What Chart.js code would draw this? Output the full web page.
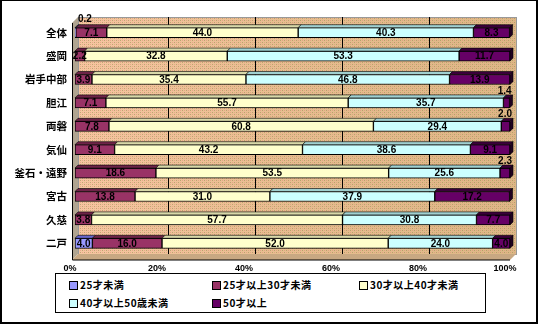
<!DOCTYPE html>
<html lang="ja">
<head>
<meta charset="UTF-8">
<title>年齢構成</title>
<script src="https://cdn.jsdelivr.net/npm/chart.js"></script>
<style>
  html, body { margin: 0; padding: 0; background: #fff; }
  #wrap { position: relative; width: 538px; height: 324px; overflow: hidden; }
  #frame { position: absolute; left: 0; top: 0; width: 538px; height: 324px; box-sizing: border-box;
           border: 1px solid #000; border-left-width: 2px; border-right-width: 2px; border-bottom-width: 2px;
           pointer-events: none; }
  #legend { position: absolute; left: 55px; top: 273px; width: 431px; height: 40px; box-sizing: border-box;
            border: 1px solid #000; background: #fff;
            font: bold 10px "Noto Sans CJK JP", sans-serif; }
  #legend .item { position: absolute; white-space: nowrap; line-height: 12px; letter-spacing: 0.5px; }
  #legend .box { display: inline-block; width: 7px; height: 7px; border: 1px solid #000; margin-right: 2px;
                 vertical-align: -1px; }
</style>
</head>
<body>
<div id="wrap">
  <canvas id="chart" width="538" height="324"></canvas>
  <div id="legend"></div>
  <div id="frame"></div>
</div>
<script>
// 地域別の年齢構成（%）
const areas = ['全体', '盛岡', '岩手中部', '胆江', '両磐', '気仙', '釜石・遠野', '宮古', '久慈', '二戸'];
const groups = ['25才未満', '25才以上30才未満', '30才以上40才未満', '40才以上50歳未満', '50才以上'];

const under25   = [0.2, 0, 0, 0, 0, 0, 0, 0, 0, 4.0];
const age25to30 = [7.1, 2.2, 3.9, 7.1, 7.8, 9.1, 18.6, 13.8, 3.8, 16.0];
const age30to40 = [44.0, 32.8, 35.4, 55.7, 60.8, 43.2, 53.5, 31.0, 57.7, 52.0];
const age40to50 = [40.3, 53.3, 46.8, 35.7, 29.4, 38.6, 25.6, 37.9, 30.8, 24.0];
const over50    = [8.3, 11.7, 13.9, 1.4, 2.0, 9.1, 2.3, 17.2, 7.7, 4.0];

const xTicks = [0, 20, 40, 60, 80, 100];

const colors = ['#9999FF', '#993366', '#FFFFCC', '#CCFFFF', '#660066'];
const tops   = ['#6666CC', '#6E2448', '#D8D8A8', '#A0D0D0', '#3A003A'];

const DEPTH = 6;   // 奥の壁までのずれ
const BAR_D = 3;   // 棒の上面の厚み

// 壁のざらざらした模様
function dots(ctx) {
  const c = document.createElement('canvas');
  c.width = 4; c.height = 4;
  const g = c.getContext('2d');
  g.fillStyle = 'rgba(150,140,80,0.55)';
  g.fillRect(0, 0, 1, 1); g.fillRect(2, 2, 1, 1);
  g.fillStyle = 'rgba(220,130,120,0.45)';
  g.fillRect(2, 0, 1, 1); g.fillRect(0, 2, 1, 1);
  return ctx.createPattern(c, 'repeat');
}

// 奥の壁・側面・床とグリッド線
const wallPlugin = {
  id: 'wall',
  beforeDatasetsDraw(chart) {
    const { ctx, chartArea: a, scales: { x } } = chart;
    const L = a.left, R = a.right, T = a.top - 4, B = a.bottom + 5;
    ctx.save();
    // 側面
    ctx.fillStyle = '#B0A490';
    ctx.beginPath();
    ctx.moveTo(L - 3, T + DEPTH); ctx.lineTo(L - 3 + DEPTH, T); ctx.lineTo(L - 3 + DEPTH, B - DEPTH); ctx.lineTo(L - 3, B);
    ctx.closePath(); ctx.fill();
    // 奥の壁
    const grad = ctx.createLinearGradient(L, 0, R, 0);
    grad.addColorStop(0, '#F6C6A0');
    grad.addColorStop(0.45, '#E8BE90');
    grad.addColorStop(1, '#DDB886');
    ctx.fillStyle = grad;
    ctx.fillRect(L - 3 + DEPTH, T, R - L + 3, B - DEPTH - T);
    ctx.fillStyle = dots(ctx);
    ctx.fillRect(L - 3 + DEPTH, T, R - L + 3, B - DEPTH - T);
    ctx.strokeStyle = '#999';
    ctx.lineWidth = 1;
    ctx.strokeRect(L - 3 + DEPTH + 0.5, T + 0.5, R - L + 3, B - DEPTH - T);
    // 床
    ctx.fillStyle = '#C8A882';
    ctx.beginPath();
    ctx.moveTo(L - 3, B); ctx.lineTo(L - 3 + DEPTH, B - DEPTH); ctx.lineTo(R + DEPTH, B - DEPTH); ctx.lineTo(R, B);
    ctx.closePath(); ctx.fill();
    // グリッド線
    ctx.strokeStyle = '#000';
    xTicks.forEach(v => {
      if (v === 0 || v === 100) return;
      const px = Math.round(x.getPixelForValue(v) + DEPTH) + 0.5;
      ctx.beginPath(); ctx.moveTo(px, T); ctx.lineTo(px, B - DEPTH); ctx.stroke();
    });
    // 軸線
    ctx.beginPath();
    ctx.moveTo(L - 3 + 0.5, T + DEPTH); ctx.lineTo(L - 3 + 0.5, B);
    ctx.lineTo(R, B);
    ctx.stroke();
    ctx.restore();
  }
};

// 棒の上面と右端の立体部分
const barTopPlugin = {
  id: 'barTop',
  afterDatasetsDraw(chart) {
    const ctx = chart.ctx;
    ctx.save();
    ctx.lineWidth = 0.6;
    ctx.strokeStyle = '#000';
    const n = chart.data.datasets.length;
    chart.data.datasets.forEach((ds, di) => {
      chart.getDatasetMeta(di).data.forEach((el, i) => {
        if (!ds.data[i]) return;
        const x0 = Math.min(el.base, el.x), x1 = Math.max(el.base, el.x);
        const top = el.y - el.height / 2;
        ctx.fillStyle = tops[di];
        ctx.beginPath();
        ctx.moveTo(x0, top); ctx.lineTo(x0 + BAR_D, top - BAR_D);
        ctx.lineTo(x1 + BAR_D, top - BAR_D); ctx.lineTo(x1, top);
        ctx.closePath(); ctx.fill(); ctx.stroke();
        // 最後の区分だけ右側面
        let last = true;
        for (let k = di + 1; k < n; k++) if (chart.data.datasets[k].data[i]) last = false;
        if (last) {
          const bot = el.y + el.height / 2;
          ctx.fillStyle = '#200020';
          ctx.beginPath();
          ctx.moveTo(x1, top); ctx.lineTo(x1 + BAR_D, top - BAR_D);
          ctx.lineTo(x1 + BAR_D, bot - BAR_D); ctx.lineTo(x1, bot);
          ctx.closePath(); ctx.fill(); ctx.stroke();
        }
      });
    });
    ctx.restore();
  }
};

// 数値ラベル
const valuePlugin = {
  id: 'values',
  afterDraw(chart) {
    const ctx = chart.ctx;
    const n = chart.data.datasets.length;
    ctx.save();
    ctx.font = 'bold 10px "Liberation Sans", Arial, sans-serif';
    ctx.fillStyle = '#000';
    ctx.textBaseline = 'middle';
    chart.data.datasets.forEach((ds, di) => {
      chart.getDatasetMeta(di).data.forEach((el, i) => {
        const v = ds.data[i];
        if (!v) return;
        const txt = v.toFixed(1);
        const x0 = Math.min(el.base, el.x), x1 = Math.max(el.base, el.x);
        if (v < 2.5 && di === 0) {
          ctx.textAlign = 'left';
          ctx.fillText(txt, x0 + 3, el.y - 13);
        } else if (v < 2.5 && di === n - 1) {
          ctx.textAlign = 'right';
          ctx.fillText(txt, x1 + 2, el.y - 12);
        } else {
          ctx.textAlign = 'center';
          ctx.fillText(txt, (x0 + x1) / 2, el.y + 0.5);
        }
      });
    });
    ctx.restore();
  }
};

const series = [under25, age25to30, age30to40, age40to50, over50];

const chart = new Chart(document.getElementById('chart'), {
  type: 'bar',
  data: {
    labels: areas,
    datasets: series.map((d, i) => ({
      label: groups[i],
      data: d,
      backgroundColor: colors[i],
      borderColor: '#000',
      borderWidth: 1,
      borderSkipped: false,
      barThickness: 10
    }))
  },
  options: {
    indexAxis: 'y',
    responsive: false,
    animation: false,
    layout: { padding: { top: 21, right: 28, left: 0, bottom: 0 } },
    plugins: { legend: { display: false }, tooltip: { enabled: false } },
    scales: {
      x: {
        stacked: true, min: 0, max: 100,
        afterFit(s) { s.height = 69; },
        afterBuildTicks(s) { s.ticks = xTicks.map(v => ({ value: v })); },
        grid: { display: false, drawTicks: false },
        border: { display: false },
        ticks: {
          padding: 8,
          labelOffset: -5,
          color: '#000',
          font: { family: '"Liberation Sans", Arial, sans-serif', size: 9, weight: 'bold' },
          callback: v => v + '%'
        }
      },
      y: {
        stacked: true,
        afterFit(s) { s.width = 75; },
        grid: { display: false, drawTicks: false },
        border: { display: false },
        ticks: {
          padding: 8,
          color: '#000',
          font: { family: '"Noto Sans CJK JP", sans-serif', size: 10.5, weight: 'bold' }
        }
      }
    }
  },
  plugins: [wallPlugin, barTopPlugin, valuePlugin]
});

// 凡例（2段）
const legend = document.getElementById('legend');
const spots = [[13, 5], [156, 5], [303, 5], [13, 23], [156, 23]];
groups.forEach((g, i) => {
  const it = document.createElement('div');
  it.className = 'item';
  it.style.left = spots[i][0] + 'px';
  it.style.top = spots[i][1] + 'px';
  it.innerHTML = '<span class="box" style="background:' + colors[i] + '"></span>' + g;
  legend.appendChild(it);
});
</script>
</body>
</html>
